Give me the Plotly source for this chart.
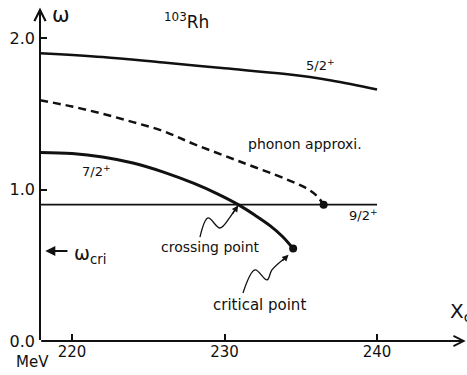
import plotly.graph_objects as go

# Level energies (MeV) versus X_c for 103Rh
x_52 = [217.9, 222.0, 226.0, 230.0, 234.0, 237.0, 240.0]
w_52 = [1.90, 1.875, 1.838, 1.800, 1.762, 1.72, 1.66]

x_phonon = [217.9, 220.0, 222.0, 224.0, 226.0, 228.0, 231.0, 234.0, 235.3, 236.0, 236.5]
w_phonon = [1.59, 1.548, 1.50, 1.445, 1.385, 1.30, 1.185, 1.07, 1.012, 0.963, 0.90]

x_72 = [217.9, 220.0, 222.0, 224.0, 226.0, 228.0, 229.5, 230.9, 232.0, 233.0, 233.8, 234.5]
w_72 = [1.245, 1.238, 1.215, 1.175, 1.115, 1.04, 0.973, 0.90, 0.83, 0.76, 0.69, 0.61]

x_92 = [217.9, 240.0]
w_92 = [0.90, 0.90]

phonon_end = (236.5, 0.90)
critical_pt = (234.5, 0.61)
crossing_pt = (230.9, 0.90)
w_cri = 0.594

x_ticks = [220, 230, 240]
y_ticks = [0.0, 1.0, 2.0]
y_ticklabels = ["0.0", "1.0", "2.0"]

# squiggly pointer lines
sq_cross_x = [228.39, 228.92, 229.70, 230.36, 230.80]
sq_cross_y = [0.686, 0.812, 0.746, 0.818, 0.885]
sq_crit_x = [231.21, 232.0, 232.79, 233.11, 233.97]
sq_crit_y = [0.317, 0.469, 0.403, 0.469, 0.548]

FONT = "DejaVu Sans"
BLACK = "#111111"

fig = go.Figure()
fig.add_trace(go.Scatter(x=x_52, y=w_52, mode="lines", line=dict(color=BLACK, width=2.5, shape="spline")))
fig.add_trace(go.Scatter(x=x_phonon, y=w_phonon, mode="lines",
                         line=dict(color=BLACK, width=2.5, dash="8px,5px", shape="spline")))
fig.add_trace(go.Scatter(x=x_72, y=w_72, mode="lines", line=dict(color=BLACK, width=3, shape="spline")))
fig.add_trace(go.Scatter(x=x_92, y=w_92, mode="lines", line=dict(color=BLACK, width=1.6)))
fig.add_trace(go.Scatter(x=[phonon_end[0], critical_pt[0]], y=[phonon_end[1], critical_pt[1]],
                         mode="markers", marker=dict(color=BLACK, size=8)))
fig.add_trace(go.Scatter(x=sq_cross_x, y=sq_cross_y, mode="lines", line=dict(color=BLACK, width=1.3, shape="spline")))
fig.add_trace(go.Scatter(x=sq_crit_x, y=sq_crit_y, mode="lines", line=dict(color=BLACK, width=1.3, shape="spline")))

ann = []
# axis arrows
ann.append(dict(xref="paper", yref="paper", x=0, y=0.978, ax=0, ay=334, axref="pixel", ayref="pixel",
                text="", showarrow=True, arrowhead=5, arrowsize=1.1, arrowwidth=2, arrowcolor=BLACK))
ann.append(dict(xref="paper", yref="paper", x=0.997, y=0, ax=-426, ay=0,
                text="", showarrow=True, arrowhead=5, arrowsize=1.1, arrowwidth=1.8, arrowcolor=BLACK))
# pointer heads
ann.append(dict(x=crossing_pt[0], y=crossing_pt[1] - 0.005, ax=230.45, ay=0.83, axref="x", ayref="y",
                text="", showarrow=True, arrowhead=2, arrowsize=1, arrowwidth=1.3, arrowcolor=BLACK))
ann.append(dict(x=234.2, y=0.57, ax=233.7, ay=0.52, axref="x", ayref="y",
                text="", showarrow=True, arrowhead=2, arrowsize=1, arrowwidth=1.3, arrowcolor=BLACK))
# omega_cri arrow
ann.append(dict(x=218.25, y=w_cri, ax=219.8, ay=w_cri, axref="x", ayref="y",
                text="", showarrow=True, arrowhead=2, arrowsize=1, arrowwidth=2, arrowcolor=BLACK))
ann.append(dict(x=220.0, y=w_cri - 0.02, text="ω<sub>cri</sub>", showarrow=False, xanchor="left",
                font=dict(family=FONT, size=19, color=BLACK)))

labels = [
    (236.3, 1.82, "5/2<sup>+</sup>", 13),
    (235.3, 1.30, "phonon approxi.", 14),
    (221.6, 1.12, "7/2<sup>+</sup>", 13),
    (239.1, 0.83, "9/2<sup>+</sup>", 13),
    (229.1, 0.62, "crossing point", 14),
    (232.3, 0.24, "critical point", 15),
    (227.5, 2.11, "<sup>103</sup>Rh", 17),
    (219.3, 2.15, "ω", 21),
]
for x, y, t, s in labels:
    ann.append(dict(x=x, y=y, text=t, showarrow=False, font=dict(family=FONT, size=s, color=BLACK)))

ann.append(dict(xref="paper", yref="paper", x=0.956, y=0.04, text="X<sub>c</sub>", showarrow=False,
                xanchor="left", yanchor="bottom", font=dict(family=FONT, size=20, color=BLACK)))
ann.append(dict(xref="paper", yref="paper", x=-0.017, y=-0.062, text="MeV", showarrow=False,
                xanchor="center", yanchor="middle", font=dict(family=FONT, size=15, color=BLACK)))

fig.update_layout(
    width=467, height=375,
    margin=dict(l=40, r=0, t=0, b=34),
    paper_bgcolor="white", plot_bgcolor="white",
    showlegend=False,
    annotations=ann,
    xaxis=dict(range=[217.9, 245.9], tickvals=x_ticks, ticks="inside", ticklen=7, tickwidth=1.5,
               tickcolor=BLACK, showgrid=False, zeroline=False, showline=False,
               tickfont=dict(family=FONT, size=15, color=BLACK)),
    yaxis=dict(range=[0, 2.251], tickvals=y_ticks, ticktext=y_ticklabels, ticks="inside", ticklen=7,
               tickwidth=1.5, tickcolor=BLACK, showgrid=False, zeroline=False, showline=False,
               ticklabelstandoff=4, tickfont=dict(family=FONT, size=16, color=BLACK)),
)

fig.write_html("out.html")
